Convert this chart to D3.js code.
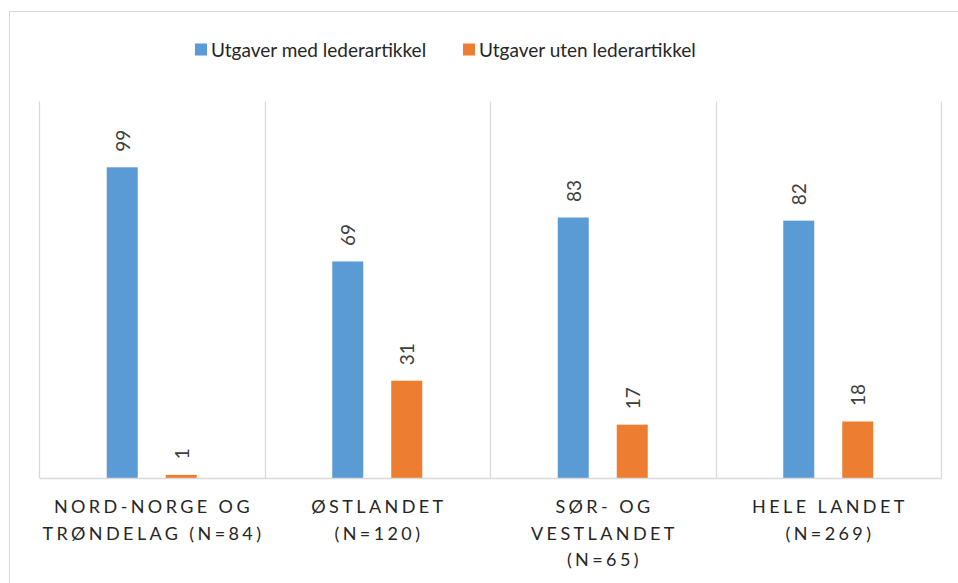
<!DOCTYPE html>
<html><head><meta charset="utf-8">
<script src="https://cdn.jsdelivr.net/npm/d3@7"></script>
<style>body{margin:0;background:#fff}svg{display:block;font-family:Lato,"Open Sans",sans-serif}</style>
</head><body><svg id="c" width="958" height="583"></svg>
<script>
const categories = [["NORD-NORGE OG","TRØNDELAG (N=84)"],["ØSTLANDET","(N=120)"],["SØR- OG","VESTLANDET","(N=65)"],["HELE LANDET","(N=269)"]];
const seriesNames = ["Utgaver med lederartikkel","Utgaver uten lederartikkel"];
const withEditorial = [99,69,83,82];
const withoutEditorial = [1,31,17,18];
const colors = ["#5B9BD5","#ED7D31"];

const svg = d3.select("#c");
svg.append("rect").attr("x",9.5).attr("y",11.5).attr("width",1000).attr("height",1000).attr("fill","#fff").attr("stroke","#D9D9D9");

const keys = categories.map((c,i)=>i);
const x0 = d3.scaleBand().domain(keys).range([39,941]).paddingInner(0).paddingOuter(0);
const bw = x0.bandwidth();
const x1 = d3.scaleBand().domain([0,1]).range([bw/2-45,bw/2+45]).paddingInner(28/59).paddingOuter(0);
const y = d3.scaleLinear().domain([0,120]).range([478,101.4]);

// gridlines (vertical category separators)
const bounds = keys.map(k=>x0(k)).concat([x0.range()[1]]);
svg.append("g").selectAll("line").data(bounds).join("line")
  .attr("x1",d=>Math.round(d)+0.5).attr("x2",d=>Math.round(d)+0.5)
  .attr("y1",y.range()[1]).attr("y2",y(0)).attr("stroke","#D9D9D9").attr("stroke-width",1.3);

const data = [];
keys.forEach(k=>{ [withEditorial,withoutEditorial].forEach((arr,s)=>data.push({k,s,v:arr[k]})); });

svg.append("g").selectAll("rect").data(data).join("rect")
  .attr("x",d=>x0(d.k)+x1(d.s)).attr("width",x1.bandwidth())
  .attr("y",d=>y(d.v)).attr("height",d=>y(0)-y(d.v))
  .attr("fill",d=>colors[d.s]);

// axis line
const xAxis = d3.axisBottom(x0).tickSize(0).tickFormat("");
const ax = svg.append("g").attr("transform",`translate(0,${y(0)})`).call(xAxis);
ax.select(".domain").attr("stroke","#D9D9D9").attr("stroke-width",1.3);

// data labels
svg.append("g").selectAll("text").data(data).join("text")
  .attr("transform",d=>`translate(${x0(d.k)+x1(d.s)+x1.bandwidth()/2},${y(d.v)-15.5}) rotate(-90)`)
  .attr("dominant-baseline","central").attr("text-anchor","start")
  .attr("font-size",19).attr("fill","#404040").text(d=>d.v);

// category labels
const cl = svg.append("g").selectAll("text").data(keys).join("text")
  .attr("text-anchor","middle").attr("font-size",18).attr("fill","#262626")
  .attr("letter-spacing","3.4px");
cl.each(function(k){
  const t=d3.select(this);
  categories[k].forEach((line,i)=>{
    t.append("tspan").attr("x",x0(k)+bw/2+1.7).attr("y",513+i*26.6).text(line);
  });
});

// legend
const legX = [195,463];
const lg = svg.append("g").selectAll("g").data(seriesNames).join("g")
  .attr("transform",(d,i)=>`translate(${legX[i]},0)`);
lg.append("rect").attr("x",0).attr("y",43.5).attr("width",12).attr("height",12).attr("fill",(d,i)=>colors[i]);
lg.append("text").attr("x",16).attr("y",56.5).attr("font-size",19).attr("fill","#262626").text(d=>d);
</script></body></html>
